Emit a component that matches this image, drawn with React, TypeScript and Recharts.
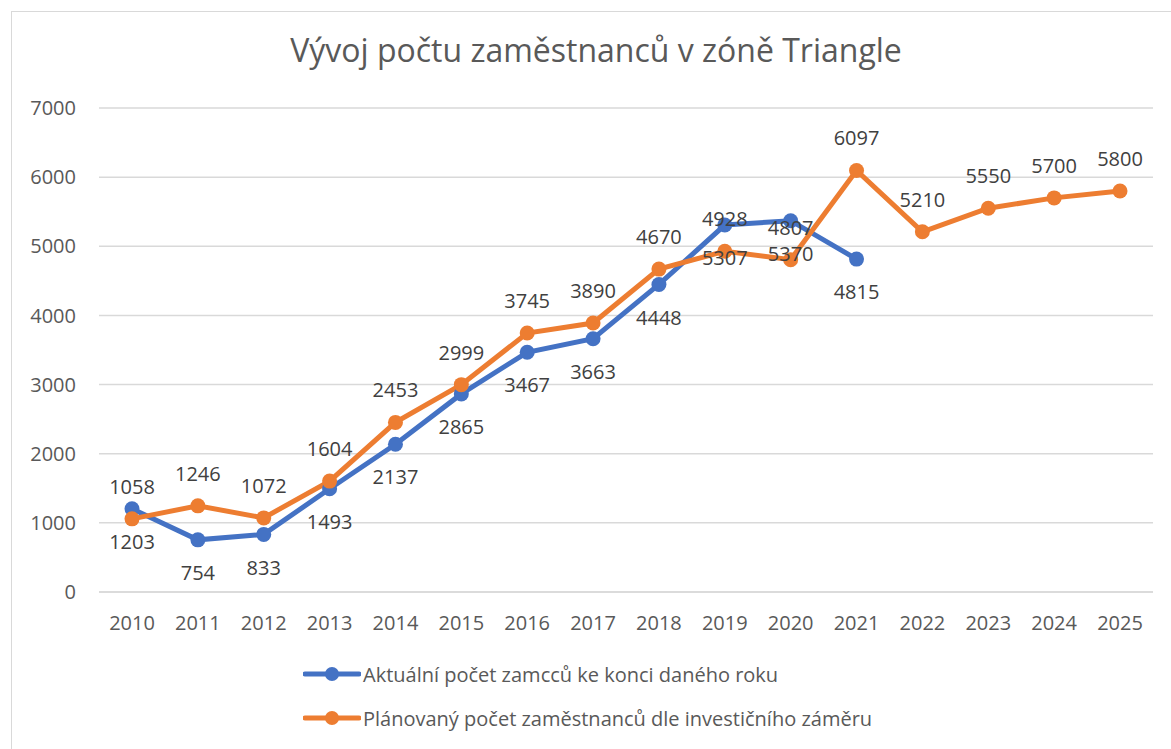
import React from 'react'
import { LineChart, Line, XAxis, YAxis, CartesianGrid, Legend, LabelList } from 'recharts'

// Years on the category axis
const years = ['2010', '2011', '2012', '2013', '2014', '2015', '2016', '2017', '2018', '2019', '2020', '2021', '2022', '2023', '2024', '2025']

// Actual headcount at year end (no data after 2021)
const actual = [1203, 754, 833, 1493, 2137, 2865, 3467, 3663, 4448, 5307, 5370, 4815]

// Planned headcount according to investment plan
const planned = [1058, 1246, 1072, 1604, 2453, 2999, 3745, 3890, 4670, 4928, 4807, 6097, 5210, 5550, 5700, 5800]

const yTicks = [0, 1000, 2000, 3000, 4000, 5000, 6000, 7000]

const ACTUAL_NAME = 'Aktuální počet zamcců ke konci daného roku'
const PLANNED_NAME = 'Plánovaný počet zaměstnanců dle investičního záměru'

const BLUE = '#4472C4'
const ORANGE = '#ED7D31'
const TEXT = '#595959'
const FONT = '"Open Sans", "Noto Sans", sans-serif'

const chartData = years.map((year, i) => ({
  year,
  actual: i < actual.length ? actual[i] : undefined,
  planned: planned[i],
}))

function LegendContent() {
  const items = [
    { name: ACTUAL_NAME, color: BLUE },
    { name: PLANNED_NAME, color: ORANGE },
  ]
  return (
    <div style={{ fontFamily: FONT, fontSize: 20, color: TEXT }}>
      {items.map(item => (
        <div key={item.name} style={{ display: 'flex', alignItems: 'center', height: 44 }}>
          <svg width={58} height={20} style={{ marginRight: 2 }}>
            <line x1={2} y1={10} x2={56} y2={10} stroke={item.color} strokeWidth={5} strokeLinecap="round" />
            <circle cx={29} cy={10} r={7} fill={item.color} />
          </svg>
          <span>{item.name}</span>
        </div>
      ))}
    </div>
  )
}

export default function App() {
  return (
    <div style={{ position: 'absolute', left: 0, top: 0, width: 1171, height: 749, overflow: 'hidden', background: '#fff' }}>
      <div
        style={{
          position: 'absolute', left: 11, top: 11, width: 1200, height: 800,
          border: '1.5px solid #d9d9d9', boxSizing: 'border-box',
        }}
      />
      <div
        style={{
          position: 'absolute', left: 11, top: 28, width: 1170, textAlign: 'center',
          fontFamily: FONT, fontSize: 32, color: TEXT,
        }}
      >
        Vývoj počtu zaměstnanců v zóně Triangle
      </div>
      <div style={{ position: 'absolute', left: 0, top: 0 }}>
        <LineChart width={1171} height={749} data={chartData} margin={{ top: 108, right: 18, left: 0, bottom: 97 }}>
          <CartesianGrid vertical={false} stroke="#d9d9d9" strokeWidth={1.5} />
          <XAxis
            dataKey="year"
            height={60}
            padding={{ left: 33, right: 33 }}
            axisLine={{ stroke: '#d9d9d9', strokeWidth: 1.5 }}
            tickLine={false}
            tickSize={0}
            tickMargin={24}
            interval={0}
            tick={{ fill: TEXT, fontSize: 20, fontFamily: FONT }}
          />
          <YAxis
            width={99}
            domain={[0, 7000]}
            ticks={yTicks}
            axisLine={false}
            tickLine={false}
            tickSize={0}
            tickMargin={23}
            tick={{ fill: TEXT, fontSize: 20, fontFamily: FONT }}
          />
          <Legend
            layout="horizontal"
            verticalAlign="middle"
            align="center"
            wrapperStyle={{ top: 652, left: 303, width: 'auto', height: 'auto' }}
            content={<LegendContent />}
          />
          <Line
            name={ACTUAL_NAME}
            dataKey="actual"
            stroke={BLUE}
            strokeWidth={5}
            dot={{ r: 7.5, fill: BLUE, stroke: BLUE, strokeWidth: 0 }}
            activeDot={false}
            isAnimationActive={false}
          >
            <LabelList dataKey="actual" position="bottom" offset={26} fill="#404040" fontSize={20} fontFamily={FONT} />
          </Line>
          <Line
            name={PLANNED_NAME}
            dataKey="planned"
            stroke={ORANGE}
            strokeWidth={5}
            dot={{ r: 7.5, fill: ORANGE, stroke: ORANGE, strokeWidth: 0 }}
            activeDot={false}
            isAnimationActive={false}
          >
            <LabelList dataKey="planned" position="top" offset={25} fill="#404040" fontSize={20} fontFamily={FONT} />
          </Line>
        </LineChart>
      </div>
    </div>
  )
}
